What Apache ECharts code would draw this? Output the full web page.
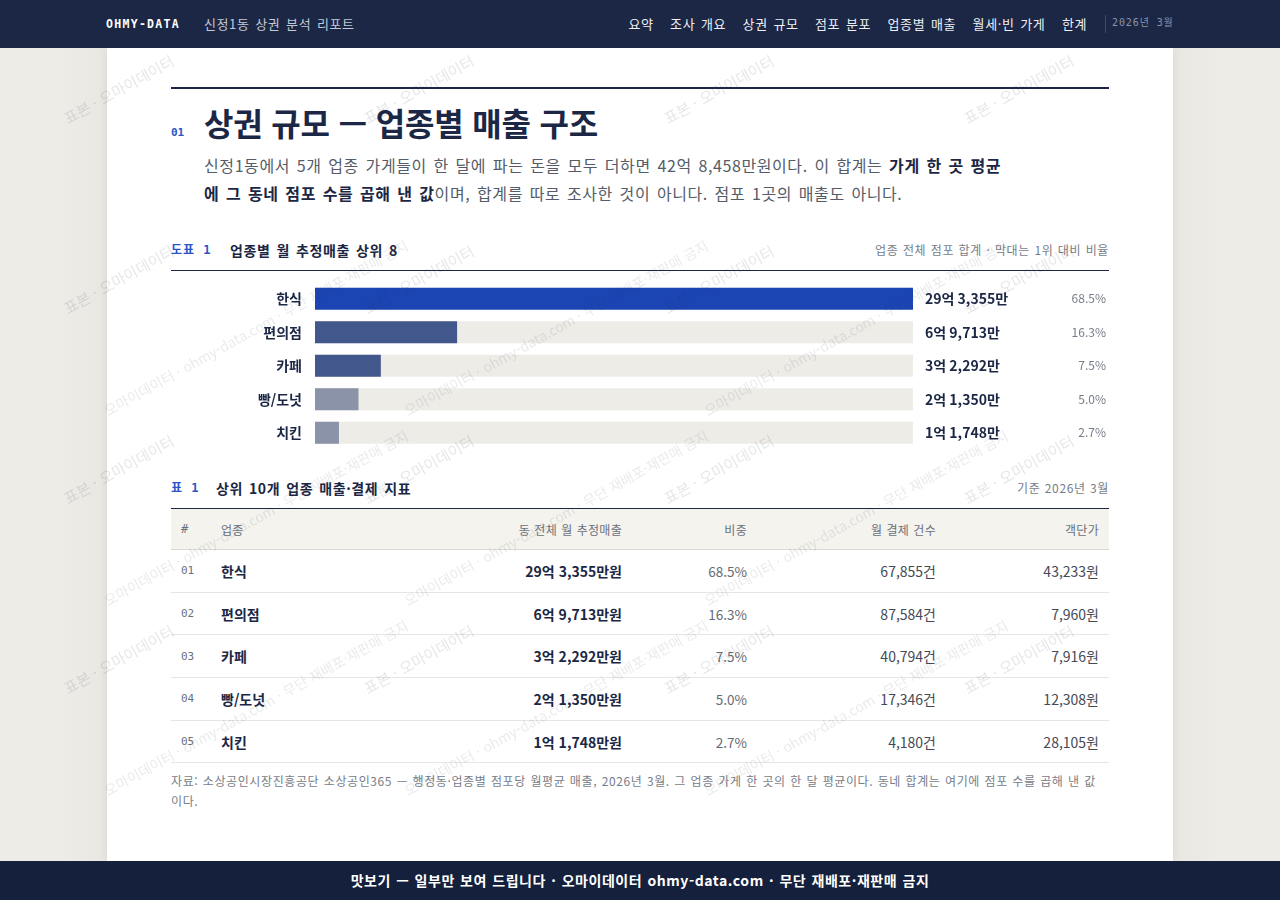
<!DOCTYPE html>
<html lang="ko">
<head>
<meta charset="utf-8">
<title>신정1동 상권 분석 리포트</title>
<script src="https://cdn.jsdelivr.net/npm/echarts@6/dist/echarts.min.js"></script>
<style>
  html,body{margin:0;padding:0;}
  body{width:1280px;height:900px;overflow:hidden;background:#eeece7;font-family:"Noto Sans CJK KR","Noto Sans",sans-serif;color:#1b2745;position:relative;}
  .mono{font-family:"DejaVu Sans Mono","Liberation Mono","Noto Sans CJK KR",monospace;}
  .sp{letter-spacing:0.6px;word-spacing:1.5px;}
  #nav{position:absolute;left:0;top:0;width:1280px;height:48px;background:#1b2745;z-index:5;}
  #nav .brand{position:absolute;left:106px;top:0;line-height:48px;color:#fff;font-weight:bold;font-size:11.5px;letter-spacing:1.3px;}
  #nav .sub{position:absolute;left:204px;top:0;line-height:48px;color:#c3c9d6;font-size:13px;}
  #nav .menu{position:absolute;right:193px;top:0;line-height:48px;font-size:13px;color:#eef0f5;white-space:nowrap;}
  #nav .menu span{margin-left:16.5px;}
  #nav .sep{position:absolute;left:1105px;top:15px;width:1px;height:18px;background:#3d4966;}
  #nav .date{position:absolute;left:1112px;top:0;line-height:46px;color:#8a93a8;font-size:10px;letter-spacing:0.9px;}
  #panel{position:absolute;left:107px;top:48px;width:1066px;height:813px;background:#fff;box-shadow:0 0 8px rgba(0,0,0,0.08);}
  #edgeL{position:absolute;left:60px;top:48px;width:47px;height:813px;background:linear-gradient(to right,rgba(0,0,0,0),rgba(0,0,0,0.025));}
  #edgeR{position:absolute;left:1173px;top:48px;width:47px;height:813px;background:linear-gradient(to left,rgba(0,0,0,0),rgba(0,0,0,0.025));}
  .abs{position:absolute;}
  #rule1{left:171px;top:87px;width:938px;height:2px;background:#1b2745;}
  #secno{left:171px;top:126px;font-size:11px;font-weight:bold;color:#2a55c8;}
  #title{left:204px;top:101px;font-size:32px;font-weight:bold;line-height:42px;color:#1b2745;letter-spacing:-0.2px;white-space:nowrap;}
  #lead{left:204px;top:151px;font-size:16px;line-height:28px;color:#555c68;white-space:nowrap;letter-spacing:0.6px;word-spacing:1.6px;}
  #lead b{color:#1b2745;font-weight:bold;}
  .fighead{left:171px;width:938px;height:20px;}
  .fighead .tag{position:absolute;left:0;top:0;line-height:20px;font-size:12px;color:#2a55c8;font-weight:bold;letter-spacing:1px;}
  .fighead .ttl{position:absolute;top:0;line-height:20px;font-size:14px;font-weight:bold;color:#1b2745;white-space:nowrap;}
  .fighead .rt{position:absolute;right:0;top:0;line-height:20px;font-size:12px;color:#777d88;white-space:nowrap;letter-spacing:0.6px;word-spacing:0.6px;}
  #rule2{left:171px;top:270px;width:938px;height:1px;background:#1b2745;}
  #chart{left:171px;top:280px;width:938px;height:172px;}
  #tbl{left:171px;top:508px;width:938px;border-collapse:collapse;border-top:1px solid #1b2745;table-layout:fixed;}
  #tbl th{height:40px;background:#f4f3ee;font-size:12px;font-weight:normal;color:#6b717c;padding:0 10px;border-bottom:1px solid #dcdad4;white-space:nowrap;letter-spacing:0.3px;word-spacing:0.5px;}
  #tbl td{height:41.7px;padding:0 10px;border-bottom:1px solid #e8e6e0;font-size:14px;white-space:nowrap;}
  #tbl .r{text-align:right;}
  #tbl .l{text-align:left;}
  #tbl td.no{font-size:11px;color:#6b717c;}
  #tbl td.nm{font-weight:bold;color:#1b2745;}
  #tbl td.sl{font-weight:bold;color:#1b2745;}
  #tbl td.sh{color:#666c77;font-size:13.5px;}
  #tbl td.ct{color:#444a55;}
  #note{left:171px;top:771px;font-size:12px;line-height:20px;color:#777d88;white-space:nowrap;letter-spacing:0.6px;word-spacing:0.6px;}
  #foot{position:absolute;left:0;top:861px;width:1280px;height:39px;background:#14203c;color:#fff;font-weight:bold;font-size:14px;line-height:39px;text-align:center;z-index:6;letter-spacing:0.55px;word-spacing:0.8px;}
  #wm{position:absolute;left:0;top:48px;width:1280px;height:813px;overflow:hidden;pointer-events:none;z-index:4;}
  #wm div{position:absolute;white-space:nowrap;font-size:15px;line-height:20px;color:rgba(40,50,70,0.12);transform-origin:0 100%;transform:rotate(-29deg);}
  #wm div.lg{font-size:14px;color:rgba(40,50,70,0.10);}
</style>
</head>
<body>
<div id="nav">
  <div class="brand mono">OHMY-DATA</div>
  <div class="sub sp">신정1동 상권 분석 리포트</div>
  <div class="menu sp"><span>요약</span><span>조사 개요</span><span>상권 규모</span><span>점포 분포</span><span>업종별 매출</span><span>월세·빈 가게</span><span>한계</span></div>
  <div class="sep"></div>
  <div class="date mono">2026년 3월</div>
</div>
<div id="edgeL"></div><div id="edgeR"></div>
<div id="panel"></div>

<div id="rule1" class="abs"></div>
<div id="secno" class="abs mono">01</div>
<div id="title" class="abs">상권 규모 — 업종별 매출 구조</div>
<div id="lead" class="abs">신정1동에서 5개 업종 가게들이 한 달에 파는 돈을 모두 더하면 42억 8,458만원이다. 이 합계는 <b>가게 한 곳 평균<br>에 그 동네 점포 수를 곱해 낸 값</b>이며, 합계를 따로 조사한 것이 아니다. 점포 1곳의 매출도 아니다.</div>

<div class="abs fighead" style="top:240px;">
  <div class="tag mono">도표 1</div>
  <div class="ttl sp" style="left:59px;">업종별 월 추정매출 상위 8</div>
  <div class="rt">업종 전체 점포 합계 · 막대는 1위 대비 비율</div>
</div>
<div id="rule2" class="abs"></div>
<div id="chart" class="abs"></div>

<div class="abs fighead" style="top:478px;">
  <div class="tag mono">표 1</div>
  <div class="ttl sp" style="left:45px;">상위 10개 업종 매출·결제 지표</div>
  <div class="rt">기준 2026년 3월</div>
</div>
<table id="tbl" class="abs">
  <colgroup><col style="width:40px"><col style="width:200px"><col style="width:221px"><col style="width:125px"><col style="width:189px"><col style="width:163px"></colgroup>
  <thead><tr>
    <th class="l mono">#</th><th class="l">업종</th><th class="r">동 전체 월 추정매출</th><th class="r">비중</th><th class="r">월 결제 건수</th><th class="r">객단가</th>
  </tr></thead>
  <tbody id="tbody"></tbody>
</table>
<div id="note" class="abs">자료: 소상공인시장진흥공단 소상공인365 — 행정동·업종별 점포당 월평균 매출, 2026년 3월. 그 업종 가게 한 곳의 한 달 평균이다. 동네 합계는 여기에 점포 수를 곱해 낸 값<br>이다.</div>

<div id="wm"></div>
<div id="foot">맛보기 — 일부만 보여 드립니다 · 오마이데이터 ohmy-data.com · 무단 재배포·재판매 금지</div>

<script>
// ---- data ----
const categories = ['한식', '편의점', '카페', '빵/도넛', '치킨'];
const salesMan = [293355, 69713, 32292, 21350, 11748];      // 동 전체 월 추정매출 (만원)
const sharePct = [68.5, 16.3, 7.5, 5.0, 2.7];               // 비중 (%)
const payCounts = [67855, 87584, 40794, 17346, 4180];       // 월 결제 건수 (건)
const unitPrice = [43233, 7960, 7916, 12308, 28105];        // 객단가 (원)
const rankLabels = ['01', '02', '03', '04', '05'];

const barColors = ['#1c45b4', '#42578c', '#42578c', '#8b93a8', '#8b93a8'];

function fmtEok(v) {
  const eok = Math.floor(v / 10000);
  const man = v % 10000;
  return eok + '억 ' + man.toLocaleString('en-US') + '만';
}

// ---- bar chart ----
const chart = echarts.init(document.getElementById('chart'), null, {renderer: 'canvas'});
const maxV = Math.max(...salesMan);
const GRID_RIGHT = 193;
const kFont = '"Noto Sans CJK KR", sans-serif';
chart.setOption({
  animation: false,
  grid: {left: 144, right: GRID_RIGHT, top: 2, bottom: 2.5, containLabel: false},
  xAxis: {type: 'value', min: 0, max: maxV, show: false},
  yAxis: [
    {
      type: 'category', data: categories, inverse: true,
      axisLine: {show: false}, axisTick: {show: false}, splitLine: {show: false},
      axisLabel: {margin: 13, fontSize: 14, fontWeight: 'bold', color: '#1b2745', fontFamily: kFont}
    },
    {
      type: 'category', data: categories, inverse: true, position: 'right',
      axisLine: {show: false}, axisTick: {show: false}, splitLine: {show: false},
      axisLabel: {
        margin: 12, align: 'left', fontSize: 14, fontWeight: 'bold', color: '#1b2745', fontFamily: kFont,
        formatter: function (val, idx) { return fmtEok(salesMan[idx]); }
      }
    },
    {
      type: 'category', data: categories, inverse: true, position: 'right',
      axisLine: {show: false}, axisTick: {show: false}, splitLine: {show: false},
      axisLabel: {
        margin: GRID_RIGHT, align: 'right', fontSize: 12, color: '#777d88', fontFamily: kFont,
        formatter: function (val, idx) { return sharePct[idx].toFixed(1) + '%'; }
      }
    }
  ],
  series: [{
    type: 'bar', yAxisIndex: 0, barWidth: 22, silent: true,
    showBackground: true, backgroundStyle: {color: '#eeece7'},
    data: salesMan.map((v, i) => ({value: v, itemStyle: {color: barColors[i]}}))
  }]
});

// ---- table ----
const tb = document.getElementById('tbody');
categories.forEach((c, i) => {
  const tr = document.createElement('tr');
  tr.innerHTML =
    '<td class="no l mono">' + rankLabels[i] + '</td>' +
    '<td class="nm l">' + c + '</td>' +
    '<td class="sl r">' + fmtEok(salesMan[i]) + '원</td>' +
    '<td class="sh r">' + sharePct[i].toFixed(1) + '%</td>' +
    '<td class="ct r">' + payCounts[i].toLocaleString('en-US') + '건</td>' +
    '<td class="ct r">' + unitPrice[i].toLocaleString('en-US') + '원</td>';
  tb.appendChild(tr);
});

// ---- watermark (decorative) ----
const wm = document.getElementById('wm');
const wmA = '표본 · 오마이데이터';
const wmB = '오마이데이터 · ohmy-data.com · 무단 재배포·재판매 금지';
function addWm(text, cls, left, top) {
  const d = document.createElement('div');
  if (cls) d.className = cls;
  d.textContent = text;
  d.style.left = left + 'px';
  d.style.top = top + 'px';
  wm.appendChild(d);
  const r = d.getBoundingClientRect();
  if (r.left < 2 || r.right > 1278 || r.top < 50 || r.bottom > 859) wm.removeChild(d);
}
for (let gx = -1; gx < 5; gx++) {
  for (let gy = -1; gy < 6; gy++) {
    addWm(wmA, '', 70 + gx * 300, 60 + gy * 190);
    addWm(wmB, 'lg', 110 + gx * 300, 400 + gy * 190 - 48);
  }
}
</script>
</body>
</html>
